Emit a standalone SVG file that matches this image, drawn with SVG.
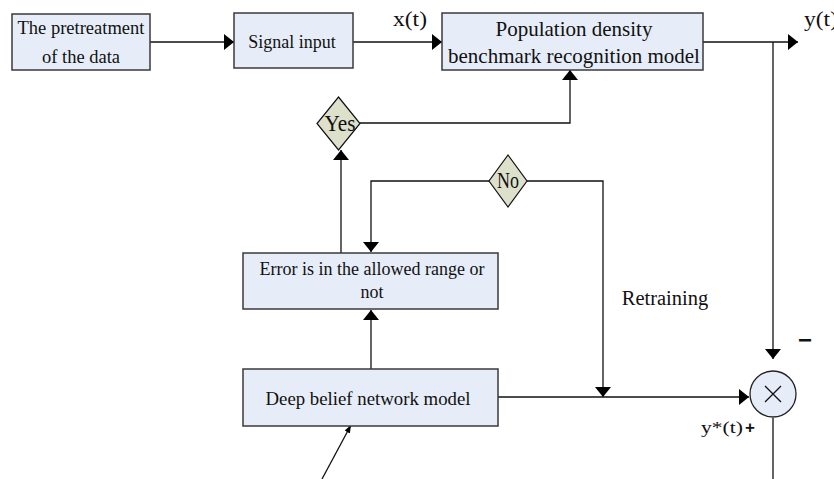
<svg xmlns="http://www.w3.org/2000/svg" width="834" height="479" viewBox="0 0 834 479">
<style>
.box{fill:#e6edf8;stroke:#3a3a3a;stroke-width:1.5}
.dia{fill:#dde1cc;stroke:#111;stroke-width:1.2}
.t{font-family:"Liberation Serif",serif;fill:#111;text-anchor:middle}
.ln{fill:none;stroke:#111;stroke-width:1.3}
</style>
<defs>
<marker id="ah" viewBox="0 0 10 16" refX="10" refY="8" markerWidth="10" markerHeight="16" markerUnits="userSpaceOnUse" orient="auto">
<path d="M0,0 L10,8 L0,16 Z" fill="#000"/>
</marker>
<marker id="sm" viewBox="0 0 8 6" refX="8" refY="3" markerWidth="8" markerHeight="6" markerUnits="userSpaceOnUse" orient="auto">
<path d="M0,0 L8,3 L0,6 Z" fill="#000"/>
</marker>
</defs>
<rect width="834" height="479" fill="#fff"/>
<g id="connectors">
<path class="ln" d="M150,42 H234" marker-end="url(#ah)"/>
<path class="ln" d="M353,42 H442" marker-end="url(#ah)"/>
<path class="ln" d="M703,42 H798" marker-end="url(#ah)"/>
<path class="ln" d="M773,42 V359" marker-end="url(#ah)"/>
<path class="ln" d="M360,123 H570 V70" marker-end="url(#ah)"/>
<path class="ln" d="M341,253 V150" marker-end="url(#ah)"/>
<path class="ln" d="M489,181 H371 V252" marker-end="url(#ah)"/>
<path class="ln" d="M527,181 H603 V397" marker-end="url(#ah)"/>
<path class="ln" d="M371,369 V310" marker-end="url(#ah)"/>
<path class="ln" d="M498,397 H749" marker-end="url(#ah)"/>
<path class="ln" d="M773,418 V479"/>
<path class="ln" d="M322,479 L351,425" marker-end="url(#sm)"/>
</g>
<g id="pretreatment">
<rect class="box" x="12" y="14" width="138" height="56"/>
<text class="t" x="81" y="34" font-size="18.5">The pretreatment</text>
<text class="t" x="81" y="63" font-size="18.5">of the data</text>
</g>
<g id="signal">
<rect class="box" x="234" y="13" width="119" height="55"/>
<text class="t" x="292" y="48" font-size="18">Signal input</text>
</g>
<g id="model">
<rect class="box" x="442" y="13" width="261" height="57"/>
<text class="t" x="574" y="36" font-size="21">Population density</text>
<text class="t" x="574" y="63" font-size="21">benchmark recognition model</text>
</g>
<g id="yes">
<path class="dia" d="M338.5,97 L360,123.5 L338.5,150 L317,123.5 Z"/>
<text class="t" x="340" y="131" font-size="24" textLength="31" lengthAdjust="spacingAndGlyphs">Yes</text>
</g>
<g id="no">
<path class="dia" d="M508,155 L527,181 L508,207 L489,181 Z"/>
<text class="t" x="508" y="188" font-size="24" textLength="22" lengthAdjust="spacingAndGlyphs">No</text>
</g>
<g id="error">
<rect class="box" x="243" y="253" width="255" height="56"/>
<text class="t" x="372" y="275" font-size="18">Error is in the allowed range or</text>
<text class="t" x="372" y="298" font-size="18">not</text>
</g>
<g id="dbn">
<rect class="box" x="243" y="369" width="255" height="57"/>
<text class="t" x="368" y="405" font-size="18.8">Deep belief network model</text>
</g>
<g id="multiplier">
<circle cx="773" cy="394" r="23" fill="#e6edf8" stroke="#222" stroke-width="1.3"/>
<path d="M765,386 L781,402 M781,386 L765,402" stroke="#111" stroke-width="1.3"/>
</g>
<g id="labels">
<text class="t" x="410" y="26" font-size="20" textLength="34" lengthAdjust="spacingAndGlyphs">x(t)</text>
<text class="t" x="821" y="26" font-size="20" textLength="34" lengthAdjust="spacingAndGlyphs">y(t)</text>
<text class="t" x="665" y="305" font-size="20.5">Retraining</text>
<text x="805" y="348" font-family="Liberation Sans, sans-serif" font-size="24" font-weight="bold" text-anchor="middle" fill="#111">−</text>
<text class="t" x="722" y="433" font-size="17" textLength="42" lengthAdjust="spacingAndGlyphs">y*(t)</text>
<text x="750" y="433" font-family="Liberation Sans, sans-serif" font-size="17" font-weight="bold" text-anchor="middle" fill="#111">+</text>
</g>
</svg>
